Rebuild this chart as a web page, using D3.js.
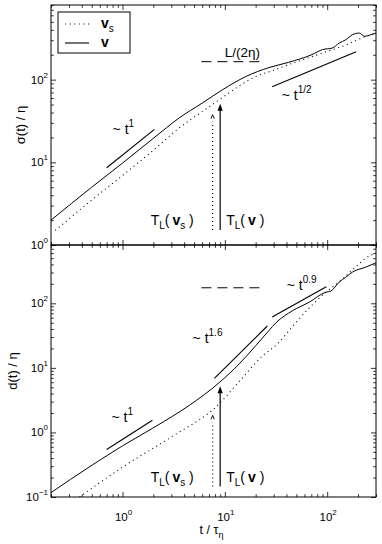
<html>
  <head>
    <style>
    body { margin: 0; background: #fff; }
    text { font-family: "Liberation Sans", Arial, Helvetica, sans-serif; fill: #000; }
    .curve { fill: none; stroke: #000; stroke-width: 1; }
    .dots { fill: none; stroke: #000; stroke-width: 1.1; stroke-dasharray: 1 3.6; }
    .guide { fill: none; stroke: #000; stroke-width: 1.1; }
    .plateau { fill: none; stroke: #000; stroke-width: 1; stroke-dasharray: 10 6; }
    .tick line { stroke: #000; stroke-width: 0.8; }
    </style>
  </head>
  <body>
    <script src="https://d3js.org/d3.v7.min.js"></script>
    <script>
    // ---- data ----
    // top panel: sigma(t)/eta
    var sigmaTimeV  = [0.2, 0.5, 1, 2, 3.6, 6, 9.5, 16, 27, 42, 71, 90, 112, 131, 152, 177, 206, 232, 269, 300];
    var sigmaV      = [2.0, 5.0, 9.8, 19.5, 34.6, 52, 75.6, 109, 140, 162, 201, 231, 241, 277, 304, 350, 366, 335, 350, 366];
    var sigmaTimeVs = [0.22, 0.5, 1.17, 2, 3.6, 6, 8.8, 13, 20, 30, 42, 71, 98, 131, 152, 206, 250, 300];
    var sigmaVs     = [1.5, 3.5, 8.1, 14, 26.2, 41, 57, 80, 109, 130, 152, 190, 218, 245, 262, 310, 340, 365];

    // bottom panel: d(t)/eta
    var dTimeV  = [0.2, 0.48, 1, 2.13, 4.5, 8.8, 13.8, 20, 27, 31.6, 46, 66.7, 97.5, 108, 131, 152, 177, 239, 300];
    var dV      = [0.117, 0.296, 0.62, 1.25, 2.63, 5.9, 11.5, 22, 38, 50, 77, 104, 149, 154, 213, 254, 305, 364, 425];
    var dTimeVs = [0.38, 1, 3.07, 8.3, 14, 23.2, 32.5, 46, 64, 98, 131, 177, 206, 230, 300];
    var dVs     = [0.1, 0.29, 0.87, 2.54, 6.3, 15.2, 23.4, 44, 79, 150, 215, 330, 410, 480, 600];

    // power-law guides and plateau levels [t, value]
    var guideTop1    = [[0.7, 8.6], [2.05, 25]];
    var guideTopHalf = [[29, 82], [192, 218]];
    var guideBot1    = [[0.7, 0.544], [1.96, 1.54]];
    var guideBot16   = [[7.9, 6.9], [26, 44.5]];
    var guideBot09   = [[29, 61.5], [98, 180]];
    var plateauTop   = [[5.9, 165], [24.3, 165]];
    var plateauBot   = [[5.9, 174], [24.3, 174]];

    // Lagrangian times
    var tlVs = 7.6, tlV = 9.0;
    var arrowTop = {base: 1.52, tipVs: 37.7, tipV: 51};
    var arrowBot = {base: 0.145, tipVs: 1.84, tipV: 5.2};

    var xDecades = [0, 1, 2];
    var yDecadesTop = [0, 1, 2];
    var yDecadesBot = [-1, 0, 1, 2];

    // ---- layout ----
    var W = 382, H = 544;
    var L = 51, R = 376;
    var svg = d3.select("body").append("svg").attr("width", W).attr("height", H);

    var x = d3.scaleLog().domain([0.2, 300]).range([L, R]);
    var yTop = d3.scaleLog().domain([1, 800]).range([245, 5]);
    var yBot = d3.scaleLog().domain([0.1, 800]).range([497, 245]);

    function minors(dom) {
      var out = [];
      for (var e = -2; e <= 3; e++)
        for (var m = 2; m <= 9; m++) {
          var v = m * Math.pow(10, e);
          if (v >= dom[0] * 0.999 && v <= dom[1] * 1.001) out.push(v);
        }
      return out;
    }
    function pow10(sel, k) {
      sel.append("tspan").text("10");
      sel.append("tspan").attr("dy", -6).attr("font-size", 8).text(k < 0 ? "\u2212" + (-k) : k);
    }

    function panel(y, id) {
      var y0 = y.range()[0], y1 = y.range()[1];
      var g = svg.append("g");
      svg.append("clipPath").attr("id", id).append("rect")
        .attr("x", L).attr("y", y1).attr("width", R - L).attr("height", y0 - y1);

      var majX = [1, 10, 100];
      var majY = y.domain()[0] < 1 ? [0.1, 1, 10, 100] : [1, 10, 100];
      // ticks on all four sides, pointing inward
      [[d3.axisBottom(x), "translate(0," + y0 + ")", majX, minors(x.domain())],
       [d3.axisTop(x), "translate(0," + y1 + ")", majX, minors(x.domain())],
       [d3.axisLeft(y), "translate(" + L + ",0)", majY, minors(y.domain())],
       [d3.axisRight(y), "translate(" + R + ",0)", majY, minors(y.domain())]]
      .forEach(function(a) {
        g.append("g").attr("transform", a[1])
          .call(a[0].tickValues(a[2]).tickSize(-5).tickFormat(""))
          .call(function(s) { s.select(".domain").remove(); });
        g.append("g").attr("transform", a[1])
          .call(a[0].tickValues(a[3]).tickSize(-2.8).tickFormat(""))
          .call(function(s) { s.select(".domain").remove(); });
      });

      g.append("rect").attr("x", L).attr("y", y1).attr("width", R - L).attr("height", y0 - y1)
        .attr("fill", "none").attr("stroke", "#000").attr("stroke-width", 1);
      return svg.append("g").attr("clip-path", "url(#" + id + ")");
    }

    var gTop = panel(yTop, "clipTop");
    var gBot = panel(yBot, "clipBot");

    // y tick labels
    yDecadesTop.forEach(function(k) {
      svg.append("text").attr("x", 48).attr("y", yTop(Math.pow(10, k)) + 4)
        .attr("text-anchor", "end").attr("font-size", 11.5).call(pow10, k);
    });
    yDecadesBot.forEach(function(k) {
      svg.append("text").attr("x", 48).attr("y", yBot(Math.pow(10, k)) + 4)
        .attr("text-anchor", "end").attr("font-size", 11.5).call(pow10, k);
    });
    xDecades.forEach(function(k) {
      svg.append("text").attr("x", x(Math.pow(10, k)) + 1).attr("y", 521)
        .attr("text-anchor", "middle").attr("font-size", 11.5).call(pow10, k);
    });

    // axis titles
    var xt = svg.append("text").attr("x", x(Math.sqrt(0.2 * 300)) - 2).attr("y", 534)
      .attr("text-anchor", "middle").attr("font-size", 12.5);
    xt.append("tspan").text("t / \u03c4");
    xt.append("tspan").attr("dy", 4).attr("font-size", 9).text("\u03b7");

    svg.append("text").attr("transform", "translate(25," + yTop(Math.sqrt(800)) + ") rotate(-90)")
      .attr("text-anchor", "middle").attr("font-size", 13).text("\u03c3(t) / \u03b7");
    svg.append("text").attr("transform", "translate(17," + yBot(Math.sqrt(80)) + ") rotate(-90)")
      .attr("text-anchor", "middle").attr("font-size", 13).text("d(t) / \u03b7");

    // ---- curves ----
    function series(ts, vs) { return ts.map(function(t, i) { return [t, vs[i]]; }); }
    function lineFor(y) {
      return d3.line().x(function(d) { return x(d[0]); }).y(function(d) { return y(d[1]); })
        .curve(d3.curveMonotoneX);
    }
    var lt = lineFor(yTop), lb = lineFor(yBot);
    var straightT = d3.line().x(function(d) { return x(d[0]); }).y(function(d) { return yTop(d[1]); });
    var straightB = d3.line().x(function(d) { return x(d[0]); }).y(function(d) { return yBot(d[1]); });

    gTop.append("path").attr("class", "dots").attr("d", lt(series(sigmaTimeVs, sigmaVs)));
    gTop.append("path").attr("class", "curve").attr("d", lt(series(sigmaTimeV, sigmaV)));
    gBot.append("path").attr("class", "dots").attr("d", lb(series(dTimeVs, dVs)));
    gBot.append("path").attr("class", "curve").attr("d", lb(series(dTimeV, dV)));

    [guideTop1, guideTopHalf].forEach(function(s) {
      gTop.append("path").attr("class", "guide").attr("d", straightT(s));
    });
    [guideBot1, guideBot16, guideBot09].forEach(function(s) {
      gBot.append("path").attr("class", "guide").attr("d", straightB(s));
    });
    gTop.append("path").attr("class", "plateau").attr("d", straightT(plateauTop));
    gBot.append("path").attr("class", "plateau").attr("d", straightB(plateauBot));

    // ---- T_L arrows ----
    function arrows(g, y, a) {
      var xs = x(tlVs), xv = x(tlV);
      g.append("line").attr("x1", xs).attr("x2", xs).attr("y1", y(a.base)).attr("y2", y(a.tipVs) + 7)
        .attr("stroke", "#000").attr("stroke-width", 1.1).attr("stroke-dasharray", "1 3");
      g.append("path").attr("d", "M" + (xs - 1.6) + "," + (y(a.tipVs) + 4) + "L" + xs + "," + y(a.tipVs) +
          "L" + (xs + 1.6) + "," + (y(a.tipVs) + 4))
        .attr("fill", "none").attr("stroke", "#000").attr("stroke-width", 0.9);
      g.append("line").attr("x1", xv).attr("x2", xv).attr("y1", y(a.base)).attr("y2", y(a.tipV) + 4)
        .attr("stroke", "#000").attr("stroke-width", 1.2);
      g.append("path").attr("d", "M" + (xv - 2.6) + "," + (y(a.tipV) + 7) + "L" + xv + "," + y(a.tipV) +
          "L" + (xv + 2.6) + "," + (y(a.tipV) + 7) + "Z").attr("fill", "#000");
    }
    arrows(gTop, yTop, arrowTop);
    arrows(gBot, yBot, arrowBot);

    function tlLabel(xp, yp, sub) {
      var t = svg.append("text").attr("x", xp).attr("y", yp).attr("font-size", 14);
      t.append("tspan").text("T");
      t.append("tspan").attr("dy", 3.5).attr("font-size", 10).text("L");
      t.append("tspan").attr("dy", -3.5).text("(");
      t.append("tspan").attr("dx", 3).attr("font-weight", "bold").text("v");
      if (sub) {
        t.append("tspan").attr("dy", 3.5).attr("font-size", 10).text("s");
        t.append("tspan").attr("dy", -3.5).text(" )");
      } else {
        t.append("tspan").text(" )");
      }
    }
    tlLabel(x(tlVs) - 62, yTop(1.74), true);
    tlLabel(x(tlV) + 6, yTop(1.74), false);
    tlLabel(x(tlVs) - 62, yBot(0.17), true);
    tlLabel(x(tlV) + 6, yBot(0.17), false);

    // ---- scaling annotations ----
    function powLabel(xp, yp, exp) {
      var t = svg.append("text").attr("x", xp).attr("y", yp).attr("font-size", 14);
      t.append("tspan").text("~ t");
      t.append("tspan").attr("dy", -7).attr("font-size", 10).text(exp);
    }
    powLabel(x(0.8), yTop(22), "1");
    powLabel(x(36), yTop(56.7), "1/2");
    powLabel(x(0.78), yBot(1.45), "1");
    powLabel(x(4.84), yBot(24.2), "1.6");
    powLabel(x(40.2), yBot(160), "0.9");
    svg.append("text").attr("x", x(9.95)).attr("y", yTop(188)).attr("font-size", 13.5).text("L/(2\u03b7)");

    // ---- legend ----
    var lg = svg.append("g");
    lg.append("rect").attr("x", 58).attr("y", 12).attr("width", 72).attr("height", 41)
      .attr("fill", "#fff").attr("stroke", "#000").attr("stroke-width", 1);
    lg.append("line").attr("x1", 65).attr("x2", 89).attr("y1", 24).attr("y2", 24)
      .attr("stroke", "#000").attr("stroke-width", 1.1).attr("stroke-dasharray", "1 3.6");
    lg.append("line").attr("x1", 65).attr("x2", 89).attr("y1", 43).attr("y2", 43)
      .attr("stroke", "#000").attr("stroke-width", 1.1);
    var l1 = lg.append("text").attr("x", 101).attr("y", 28).attr("font-size", 14);
    l1.append("tspan").attr("font-weight", "bold").text("v");
    l1.append("tspan").attr("dy", 3.5).attr("font-size", 10).text("s");
    lg.append("text").attr("x", 101).attr("y", 47).attr("font-size", 14).attr("font-weight", "bold").text("v");
    </script>
  </body>
</html>
